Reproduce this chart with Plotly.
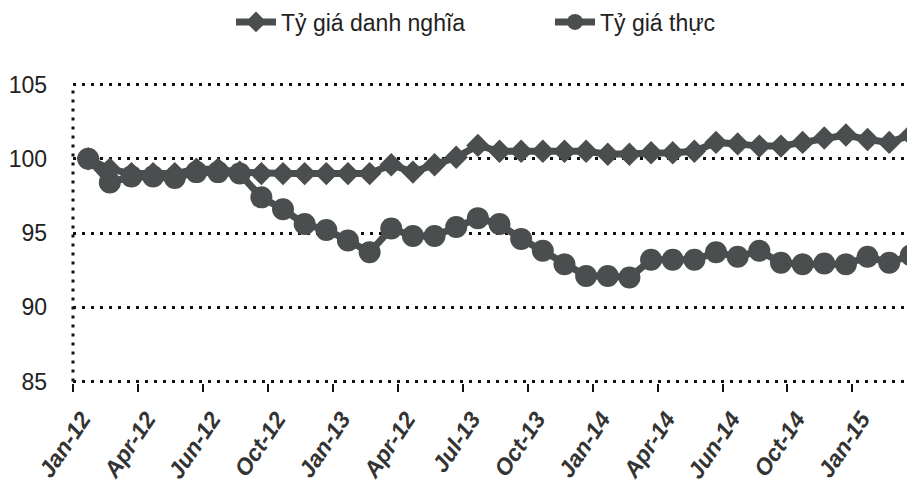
import plotly.graph_objects as go

months = ["Jan-12","Feb-12","Mar-12","Apr-12","May-12","Jun-12","Jul-12","Aug-12","Sep-12","Oct-12","Nov-12","Dec-12",
          "Jan-13","Feb-13","Mar-13","Apr-13","May-13","Jun-13","Jul-13","Aug-13","Sep-13","Oct-13","Nov-13","Dec-13",
          "Jan-14","Feb-14","Mar-14","Apr-14","May-14","Jun-14","Jul-14","Aug-14","Sep-14","Oct-14","Nov-14","Dec-14",
          "Jan-15","Feb-15","Mar-15"]

nominal = [100.0, 99.3, 99.0, 99.0, 99.0, 99.3, 99.3, 99.1, 99.0, 99.0, 99.0, 99.0,
           99.0, 99.0, 99.6, 99.1, 99.6, 100.1, 100.9, 100.5, 100.5, 100.5, 100.5, 100.5,
           100.3, 100.3, 100.4, 100.4, 100.5, 101.1, 101.0, 100.85, 100.85, 101.1, 101.4, 101.6,
           101.3, 101.1, 101.6]

real = [100.0, 98.4, 98.8, 98.8, 98.7, 99.1, 99.1, 99.0, 97.4, 96.6, 95.6, 95.2,
        94.5, 93.7, 95.3, 94.8, 94.8, 95.4, 96.0, 95.6, 94.6, 93.8, 92.9, 92.1,
        92.1, 92.0, 93.2, 93.2, 93.2, 93.7, 93.4, 93.8, 93.0, 92.9, 92.95, 92.9,
        93.4, 93.0, 93.5]

tick_pos = [0, 3, 6, 9, 12, 15, 18, 21, 24, 27, 30, 33, 36]
tick_text = ["Jan-12","Apr-12","Jun-12","Oct-12","Jan-13","Apr-12","Jul-13",
             "Oct-13","Jan-14","Apr-14","Jun-14","Oct-14","Jan-15"]
boundary_ticks = [-0.7 + 3 * k for k in range(14)]

y_ticks = [85, 90, 95, 100, 105]

x = list(range(len(months)))
col = "#4a4e4e"
sans = "Liberation Sans, Arial, sans-serif"

fig = go.Figure()
fig.add_trace(go.Scatter(
    x=x, y=nominal, name="Tỷ giá danh nghĩa", mode="lines+markers",
    line=dict(color=col, width=7),
    marker=dict(symbol="diamond", size=18, color=col),
    customdata=months,
))
fig.add_trace(go.Scatter(
    x=x, y=real, name="Tỷ giá thực", mode="lines+markers",
    line=dict(color=col, width=7),
    marker=dict(symbol="circle", size=22, color=col),
    customdata=months,
))

# dotted vertical axis line
fig.add_shape(type="line", xref="x domain", yref="y", x0=0, x1=0, y0=85, y1=105,
              line=dict(color="#111", width=3, dash="3px,6px"), layer="below")

fig.update_layout(
    width=915, height=486,
    margin=dict(l=65, r=0, t=75, b=111),
    paper_bgcolor="white", plot_bgcolor="white",
    showlegend=True,
    legend=dict(orientation="h", x=223 / 915, xanchor="left", xref="container",
                y=1 - 14 / 486, yanchor="middle", yref="container",
                font=dict(family=sans, size=23, color="#222"),
                itemwidth=40, entrywidth=264, entrywidthmode="pixels"),
    xaxis=dict(
        range=[-0.7, 38.56], showgrid=False, zeroline=False, showline=False,
        automargin=False,
        tickmode="array", tickvals=tick_pos, ticktext=tick_text,
        ticks="", tickangle=-56, ticklabelstandoff=17, ticklabelshift=-6,
        tickfont=dict(family=sans, size=23, color="#333", weight="bold", style="italic"),
        minor=dict(tickmode="array", tickvals=boundary_ticks, ticks="outside",
                   ticklen=8, tickwidth=2, tickcolor="#111", showgrid=False),
    ),
    yaxis=dict(
        range=[84.9, 105.1], tickmode="array", tickvals=y_ticks,
        automargin=False,
        showgrid=True, gridcolor="#111", gridwidth=3, griddash="3px,6px",
        zeroline=False, showline=False, ticks="",
        tickfont=dict(family=sans, size=23, color="#222"),
        ticklabelstandoff=25,
    ),
)

fig.write_html("out.html")
